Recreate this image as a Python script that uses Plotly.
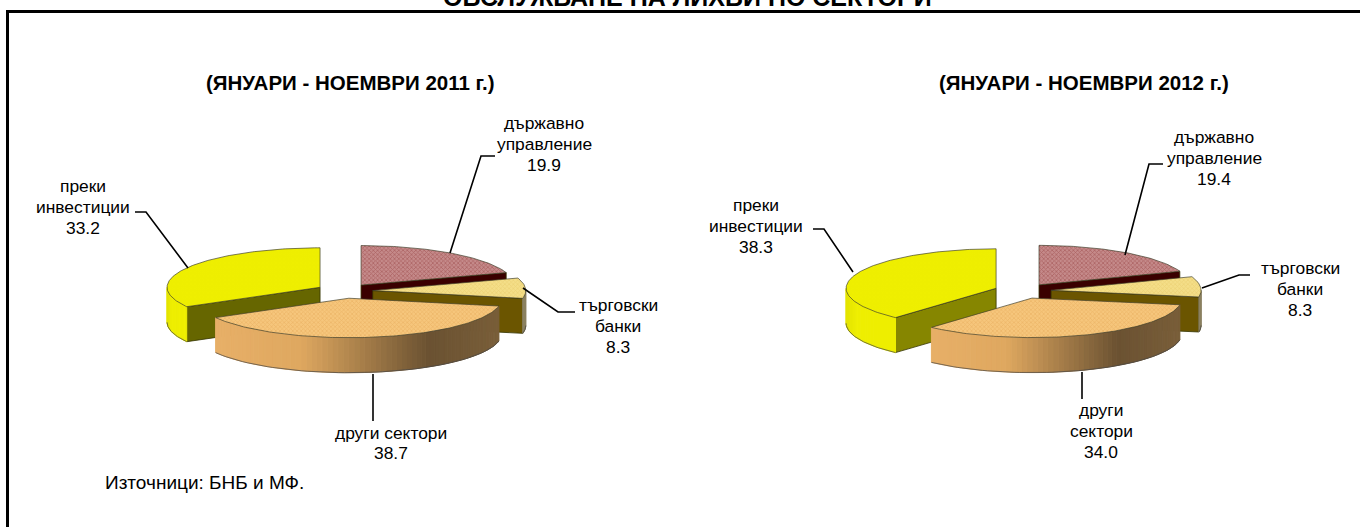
import numpy as np
import plotly.graph_objects as go

# ---- data ----
SECTORS = ["държавно<br>управление", "търговски<br>банки", "други сектори", "преки<br>инвестиции"]
SECTORS_2012 = ["държавно<br>управление", "търговски<br>банки", "други<br>сектори", "преки<br>инвестиции"]
VALUES_2011 = [19.9, 8.3, 38.7, 33.2]
VALUES_2012 = [19.4, 8.3, 34.0, 38.3]
TITLE_MAIN = "ОБСЛУЖВАНЕ НА ЛИХВИ ПО СЕКТОРИ"
TITLE_2011 = "(ЯНУАРИ - НОЕМВРИ 2011 г.)"
TITLE_2012 = "(ЯНУАРИ - НОЕМВРИ 2012 г.)"
SOURCE = "Източници: БНБ и МФ."

# ---- styling / layout ----
FONT = "Liberation Sans, Arial, sans-serif"
TOP = [
    dict(bg="#C58A8A", fg="#943F3F"),
    dict(bg="#F4DE88", fg="#E6C766"),
    dict(bg="#F6C67C", fg="#E3A655"),
    dict(bg="#EEEE00", fg="#EEEE00"),
]
FACE = ["#3A0000", "#6B5500", "#6B5232", "#666600"]
RIM_STOPS = [
    ([0, 1], ["#5a1a1a", "#5a1a1a"]),
    ([0, 1], ["#8b8060", "#8b8060"]),
    ([0, .3, .75, 1], ["#E8B068", "#DFA860", "#6B5232", "#7A5F3A"]),
    ([0, .2, 1], ["#E4E400", "#EEEE00", "#EEEE00"]),
]
PIES = [
    dict(cx=344.5, cy=291, rx=153, ry=39.5, depth=35, explode=0.185, face_yellow="#666600"),
    dict(cx=1022.7, cy=291, rx=150, ry=39.5, depth=35, explode=0.19, face_yellow="#868600"),
]
DRAW_ORDER = [0, 3, 1, 2]


def hex2rgb(h):
    return np.array([int(h[i:i + 2], 16) for i in (1, 3, 5)], float)


def interp_color(t, stops, cols):
    rgb = np.array([hex2rgb(c) for c in cols])
    out = [np.interp(t, stops, rgb[:, k]) for k in range(3)]
    return "rgb(%d,%d,%d)" % tuple(out)


def add_pie(fig, values, p):
    fr = np.array(values) / sum(values) * 360.0
    ends = np.cumsum(fr)
    starts = ends - fr
    for i in DRAW_ORDER:
        a0, a1 = starts[i], ends[i]
        mid = np.radians((a0 + a1) / 2)
        ax = p["cx"] + p["explode"] * p["rx"] * np.sin(mid)
        ay = p["cy"] - p["explode"] * p["ry"] * np.cos(mid)
        pt = lambda deg: (ax + p["rx"] * np.sin(np.radians(deg)),
                          ay - p["ry"] * np.cos(np.radians(deg)))
        face = p["face_yellow"] if i == 3 else FACE[i]
        # visible cut faces
        for ang, vis in ((a0, 180 < a0 < 360), (a1, 0 < a1 < 180)):
            if vis:
                ex, ey = pt(ang)
                d = p["depth"]
                fig.add_trace(go.Scatter(
                    x=[ax, ex, ex, ax, ax], y=[ay, ey, ey + d, ay + d, ay],
                    mode="lines", fill="toself", fillcolor=face,
                    line=dict(color="#333300", width=0.8), hoverinfo="skip"))
        # outer rim, front half only, shaded per small segment
        lo, hi = max(a0, 90), min(a1, 270)
        if hi > lo:
            n = max(2, int((hi - lo) / 2))
            grid = np.linspace(lo, hi, n + 1)
            xs = [pt(g)[0] for g in grid]
            xl, xr = min(xs), max(xs)
            for g0, g1 in zip(grid[:-1], grid[1:]):
                x0, y0 = pt(g0)
                x1, y1 = pt(g1)
                t = ((x0 + x1) / 2 - xl) / max(xr - xl, 1e-6)
                col = interp_color(t, *RIM_STOPS[i])
                d = p["depth"]
                fig.add_trace(go.Scatter(
                    x=[x0, x1, x1, x0, x0], y=[y0, y1, y1 + d, y0 + d, y0],
                    mode="lines", fill="toself", fillcolor=col,
                    line=dict(color=col, width=1), hoverinfo="skip"))
            # lower outline of the rim
            g = np.linspace(lo, hi, 60)
            fig.add_trace(go.Scatter(
                x=[pt(v)[0] for v in g], y=[pt(v)[1] + p["depth"] for v in g],
                mode="lines", line=dict(color="rgba(70,70,70,.7)", width=1), hoverinfo="skip"))
        # top surface
        g = np.linspace(a0, a1, max(8, int(a1 - a0)))
        xs = [ax] + [pt(v)[0] for v in g] + [ax]
        ys = [ay] + [pt(v)[1] for v in g] + [ay]
        fig.add_trace(go.Scatter(
            x=xs, y=ys, mode="lines", fill="toself",
            fillcolor=TOP[i]["bg"],
            fillpattern=dict(shape="x", size=3, solidity=0.45,
                             fgcolor=TOP[i]["fg"], bgcolor=TOP[i]["bg"]),
            line=dict(color="rgba(60,60,40,.75)", width=0.9), hoverinfo="skip"))


fig = go.Figure()
for vals, pie in zip((VALUES_2011, VALUES_2012), PIES):
    add_pie(fig, vals, pie)

# leader line paths
LEADERS = [
    [(450, 253), (481, 156), (495, 156)],
    [(188, 268), (146, 212), (135, 212)],
    [(523, 288), (558, 312), (575, 312)],
    [(373, 374), (373, 421)],
    [(1125, 255), (1149, 164), (1163, 164)],
    [(853, 272), (824, 229), (813, 229)],
    [(1202, 288), (1239, 275), (1250, 275)],
    [(1082, 372), (1082, 399)],
]
shapes = []
for path in LEADERS:
    d = "M " + " L ".join(f"{x},{y}" for x, y in path)
    shapes.append(dict(type="path", path=d, xref="x", yref="y",
                       line=dict(color="black", width=1.6), layer="above"))
shapes.append(dict(type="path", path="M 7.5,527 L 7.5,11.5 L 1360,11.5", xref="x", yref="y",
                   line=dict(color="black", width=3), layer="above"))


def ann(text, x, y, size=17.4, bold=False, xanchor="center", yshift=0):
    t = f"<b>{text}</b>" if bold else text
    return dict(text=t, x=x, y=y, xref="x", yref="y", showarrow=False, xanchor=xanchor,
                yanchor="middle", align="center", yshift=yshift,
                font=dict(family=FONT, size=size, color="black"))


def label(name, value, x, y, step=20.7):
    lines = name.split("<br>") + [f"{value:.1f}"]
    y0 = y - step * (len(lines) - 1) / 2
    return [ann(line, x, y0 + k * step) for k, line in enumerate(lines)]


annotations = [
    ann(TITLE_MAIN, 687, 0, size=25, bold=True, yshift=3),
    ann(TITLE_2011, 350, 82, size=20.5, bold=True),
    ann(TITLE_2012, 1084, 82, size=20.5, bold=True),
    ann(SOURCE, 103, 482, size=19, xanchor="left"),
]
annotations += label(SECTORS[0], VALUES_2011[0], 544, 144)
annotations += label(SECTORS[1], VALUES_2011[1], 618, 326)
annotations += label(SECTORS[2], VALUES_2011[2], 391, 443)
annotations += label(SECTORS[3], VALUES_2011[3], 83, 207)
annotations += label(SECTORS_2012[0], VALUES_2012[0], 1214, 158)
annotations += label(SECTORS_2012[1], VALUES_2012[1], 1300, 289)
annotations += label(SECTORS_2012[2], VALUES_2012[2], 1101, 431)
annotations += label(SECTORS_2012[3], VALUES_2012[3], 756, 226)

fig.update_layout(
    width=1360, height=527, margin=dict(l=0, r=0, t=0, b=0),
    paper_bgcolor="white", plot_bgcolor="white", showlegend=False,
    xaxis=dict(range=[0, 1360], visible=False, fixedrange=True),
    yaxis=dict(range=[527, 0], visible=False, fixedrange=True),
    shapes=shapes, annotations=annotations,
)
fig.write_html("out.html", config={"displayModeBar": False},
               post_script="document.body.style.margin='0';document.body.style.overflow='hidden';")
